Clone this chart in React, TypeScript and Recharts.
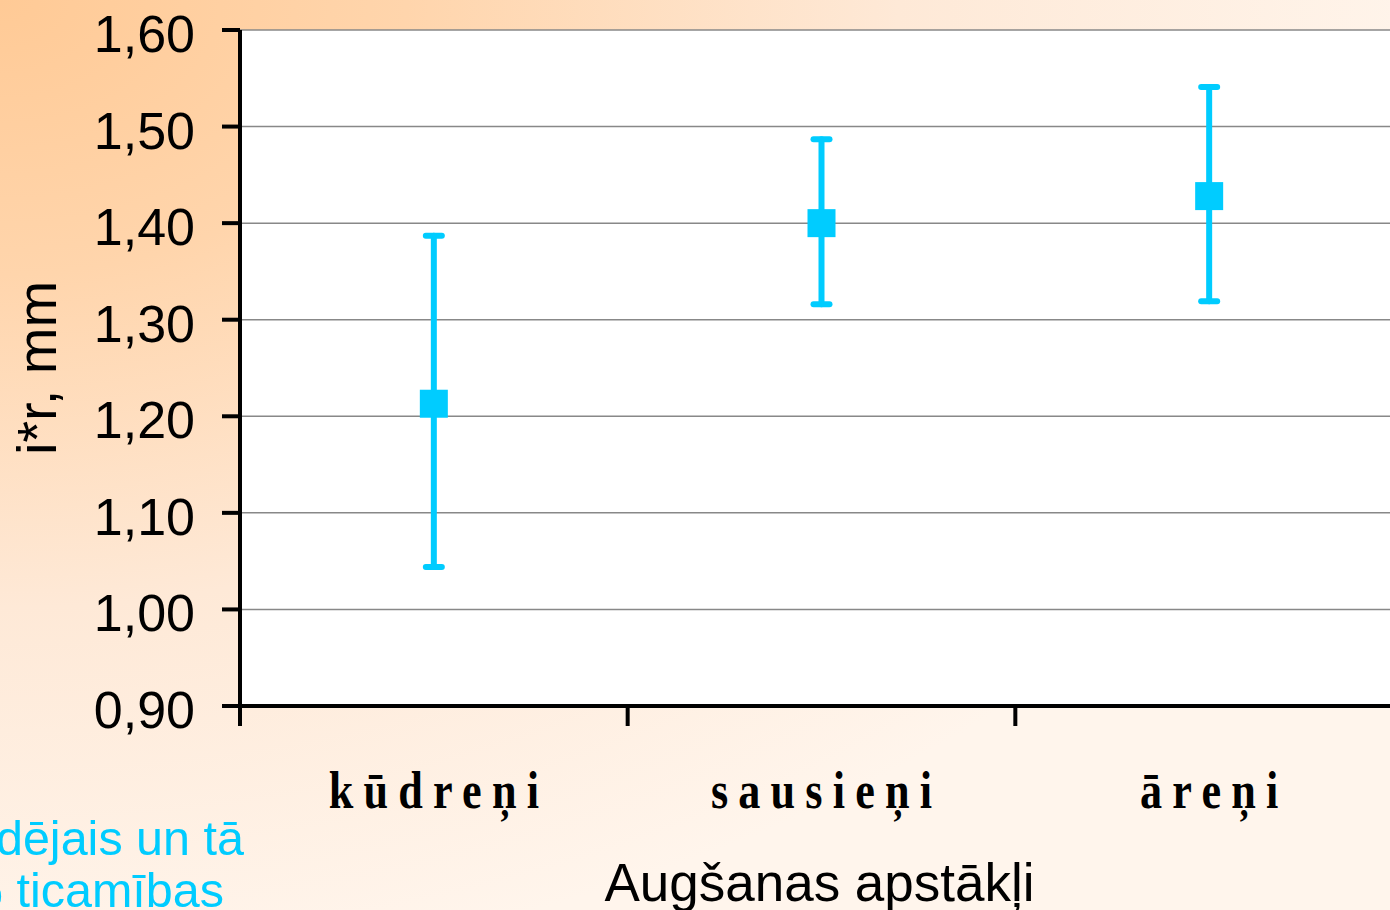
import React from 'react';
import { ComposedChart, Scatter, ErrorBar, XAxis, YAxis, CartesianGrid } from 'recharts';

const categories = ['kūdreņi', 'sausieņi', 'āreņi'];
const means = [1.213, 1.4, 1.428];
const lowerBounds = [1.044, 1.316, 1.319];
const upperBounds = [1.387, 1.487, 1.541];
const yTicks = [0.9, 1.0, 1.1, 1.2, 1.3, 1.4, 1.5, 1.6];
const boundaryTicks = [0, 1, 2, 3];

const yAxisTitle = 'i*r, mm';
const xAxisTitle = 'Augšanas apstākļi';
const noteLines = ['Vidējais un tā', '95% ticamības'];

// each category occupies one unit slot on the boundary axis; the mark sits in the middle of its slot
const data = categories.map((name, i) => ({
  name,
  slot: i + 0.5,
  mean: means[i],
  err: [means[i] - lowerBounds[i], upperBounds[i] - means[i]],
}));

const CYAN = '#00CCFF';

const YTick = (props: any) => {
  const { x, y, payload } = props;
  return (
    <text x={x} y={y + 22} textAnchor="end" fontSize={52} fontFamily="'Liberation Sans', Arial, sans-serif" fill="#000">
      {Number(payload.value).toFixed(2).replace('.', ',')}
    </text>
  );
};

const CatTick = (props: any) => {
  const { x, y, payload } = props;
  return (
    <g transform={`translate(${x},${y + 101}) scale(0.85,1)`}>
      <text x={0} y={0} dx={6} textAnchor="middle" fontSize={52} fontWeight="bold" letterSpacing={12}
        fontFamily="'Liberation Serif', 'Times New Roman', serif" fill="#000">
        {payload.value}
      </text>
    </g>
  );
};

const EmptyTick = () => <g />;

const SquareShape = (props: any) => {
  const { cx, cy } = props;
  return <rect x={cx - 14} y={cy - 14} width={28} height={28} fill={CYAN} />;
};

export default function App() {
  return (
    <div
      style={{
        position: 'absolute',
        left: 0,
        top: 0,
        width: 1390,
        height: 910,
        overflow: 'hidden',
        background:
          'radial-gradient(ellipse 1450px 980px at 0px 0px, #FFCA96 0%, #FFD5AC 28%, #FEE9D7 62%, #FFF5EC 100%)',
      }}
    >
      <ComposedChart width={1403} height={910} data={data} margin={{ top: 30, right: 0, bottom: 0, left: 0 }}>
        <CartesianGrid xAxisId="a" vertical={false} stroke="#888888" strokeWidth={1.5} fill="#ffffff" fillOpacity={1} />
        <XAxis
          xAxisId="a"
          dataKey="slot"
          type="number"
          domain={[0, 3]}
          ticks={boundaryTicks}
          interval={0}
          height={1}
          tick={<EmptyTick />}
          tickSize={20}
          axisLine={{ stroke: '#000', strokeWidth: 4 }}
          tickLine={{ stroke: '#000', strokeWidth: 4 }}
          allowDataOverflow
        />
        <XAxis
          xAxisId="b"
          dataKey="name"
          type="category"
          scale="band"
          height={203}
          axisLine={false}
          tickLine={false}
          tickSize={0}
          tickMargin={0}
          interval={0}
          tick={<CatTick />}
          label={{
            content: (p: any) => {
              const vb = p.viewBox || { x: 240, y: 707, width: 1163, height: 203 };
              return (
                <text x={vb.x + vb.width / 2 - 2} y={vb.y + 194} textAnchor="middle" fontSize={53}
                  fontFamily="'Liberation Sans', Arial, sans-serif" fill="#000">
                  {xAxisTitle}
                </text>
              );
            },
          }}
        />
        <YAxis
          type="number"
          domain={[0.9, 1.6]}
          ticks={yTicks}
          interval={0}
          width={240}
          tickSize={18}
          tickMargin={27}
          axisLine={{ stroke: '#000', strokeWidth: 4 }}
          tickLine={{ stroke: '#000', strokeWidth: 4 }}
          tick={<YTick />}
          allowDataOverflow
          label={{
            content: (p: any) => {
              const vb = p.viewBox || { x: 0, y: 30, width: 240, height: 676 };
              const cx = vb.x + 56;
              const cy = vb.y + vb.height / 2;
              return (
                <text x={cx} y={cy} transform={`rotate(-90 ${cx} ${cy})`} textAnchor="middle" fontSize={56}
                  fontFamily="'Liberation Sans', Arial, sans-serif" fill="#000">
                  {yAxisTitle}
                </text>
              );
            },
          }}
        />
        <Scatter xAxisId="a" dataKey="mean" fill={CYAN} shape={<SquareShape />} isAnimationActive={false}>
          <ErrorBar dataKey="err" direction="y" width={8} stroke={CYAN} strokeWidth={6} strokeLinecap="round" isAnimationActive={false} />
        </Scatter>
      </ComposedChart>
      <svg width={1390} height={910} style={{ position: 'absolute', left: 0, top: 0, pointerEvents: 'none' }}>
        <text x={244} y={855} textAnchor="end" fontSize={48.5} fontFamily="'Liberation Sans', Arial, sans-serif" fill={CYAN}>
          {noteLines[0]}
        </text>
        <text x={224} y={907} textAnchor="end" fontSize={48.5} fontFamily="'Liberation Sans', Arial, sans-serif" fill={CYAN}>
          {noteLines[1]}
        </text>
      </svg>
    </div>
  );
}
